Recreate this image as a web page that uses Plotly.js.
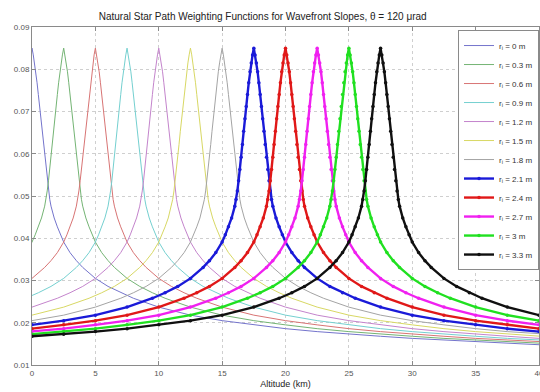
<!DOCTYPE html>
<html>
<head>
<meta charset="utf-8">
<script src="https://cdn.plot.ly/plotly-3.0.1.min.js"></script>
<style>html,body{margin:0;padding:0;background:#fff;}#chart{width:540px;height:392px;}</style>
</head>
<body>
<div id="chart"></div>
<script>
// Telescope sub-aperture radii (m) and the altitudes (km) where each weighting function peaks
var radii = ['0', '0.3', '0.6', '0.9', '1.2', '1.5', '1.8', '2.1', '2.4', '2.7', '3', '3.3'];
var peakAltitude = [0, 2.5, 5, 7.5, 10, 12.5, 15, 17.5, 20, 22.5, 25, 27.5];
// Weighting profile: distance from the peak altitude (km) -> weight
var profileDistance = [0, 0.1, 0.2, 0.3, 0.4, 0.5, 0.6, 0.7, 0.8, 0.9, 1.0, 1.1, 1.2, 1.3, 1.4, 1.5,
  1.75, 2.0, 2.25, 2.5, 3.0, 3.5, 4.0, 5.0, 6.0, 7.0, 8.0, 10, 12.5, 15, 17.5, 20, 22.5, 25, 27.5, 30, 35, 40];
var profileWeight = [0.0850, 0.0834, 0.0815, 0.0794, 0.0768, 0.0740, 0.0712, 0.0683, 0.0653, 0.0622, 0.0592, 0.0563, 0.0536, 0.0512, 0.0492, 0.0476,
  0.0448, 0.0427, 0.0408, 0.0391, 0.0366, 0.0347, 0.0331, 0.0305, 0.0286, 0.0271, 0.0258, 0.0237, 0.0218, 0.0205, 0.0195, 0.0186, 0.0179, 0.0173, 0.0168, 0.0163, 0.0155, 0.0148];
var colors = ['#7474cc', '#74b474', '#d87474', '#74d0d0', '#c484cc', '#d8d864', '#a4a4a4',
  '#1a1ad8', '#e01818', '#f020f0', '#20e020', '#101010'];
var withMarkers = [false, false, false, false, false, false, false, true, true, true, true, true];

var traces = [];
for (var i = 0; i < radii.length; i++) {
  var xs = [], ys = [];
  for (var k = profileDistance.length - 1; k >= 1; k--) {
    xs.push(peakAltitude[i] - profileDistance[k]); ys.push(profileWeight[k]);
  }
  for (var k2 = 0; k2 < profileDistance.length; k2++) {
    xs.push(peakAltitude[i] + profileDistance[k2]); ys.push(profileWeight[k2]);
  }
  var tr = {
    x: xs, y: ys, type: 'scatter',
    name: 'r<sub>i</sub> = ' + radii[i] + ' m',
    line: {color: colors[i], width: withMarkers[i] ? 2.4 : 1},
    mode: withMarkers[i] ? 'lines+markers' : 'lines'
  };
  if (withMarkers[i]) tr.marker = {size: 3.5, color: colors[i]};
  traces.push(tr);
}

var axisCommon = {
  showline: true, linecolor: '#8a8a8a', linewidth: 1, mirror: 'allticks',
  ticks: 'inside', ticklen: 4, tickcolor: '#8a8a8a',
  showgrid: true, gridcolor: '#cfcfcf', griddash: 'dot', gridwidth: 1,
  zeroline: false, ticklabeloverflow: 'allow',
  tickfont: {family: 'Liberation Sans, Arial, sans-serif', size: 8, color: '#555'}
};

var layout = {
  width: 540, height: 392,
  margin: {l: 32, r: 1, t: 27, b: 27},
  paper_bgcolor: '#fff', plot_bgcolor: '#fff',
  font: {family: 'Liberation Sans, Arial, sans-serif', color: '#222'},
  title: {
    text: 'Natural Star Path Weighting Functions for Wavefront Slopes, \u03b8 = 120 \u03bcrad',
    font: {size: 10, color: '#222'},
    xref: 'paper', x: 0.455, xanchor: 'center',
    yref: 'container', y: 0.958, yanchor: 'middle'
  },
  xaxis: Object.assign({}, axisCommon, {
    range: [0, 40], dtick: 5, tick0: 0,
    title: {text: 'Altitude (km)', font: {size: 9, color: '#222'}, standoff: 4}
  }),
  yaxis: Object.assign({}, axisCommon, {
    range: [0.01, 0.09], dtick: 0.01, tick0: 0.01, tickformat: '.2f'
  }),
  showlegend: true,
  legend: {
    x: 1, xanchor: 'right', y: 0.991, yanchor: 'top',
    bgcolor: '#fff', bordercolor: '#8a8a8a', borderwidth: 1,
    font: {size: 8, color: '#333'},
    itemwidth: 30, tracegroupgap: 0
  }
};

Plotly.newPlot('chart', traces, layout, {displayModeBar: false, staticPlot: true});
</script>
</body>
</html>
